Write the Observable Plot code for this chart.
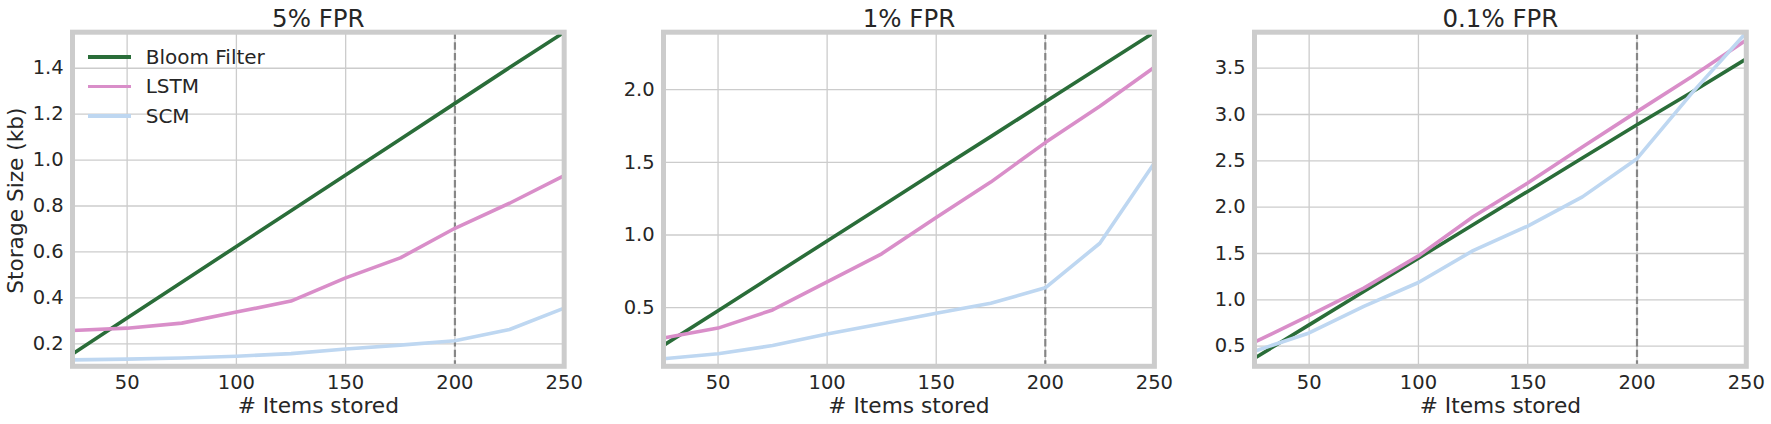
<!DOCTYPE html>
<html>
<head>
<meta charset="utf-8">
<script src="https://cdn.jsdelivr.net/npm/d3@7"></script>
<script src="https://cdn.jsdelivr.net/npm/@observablehq/plot@0.6"></script>
<style>
  html, body { margin: 0; padding: 0; background: #ffffff; }
  #root { position: relative; width: 1771px; height: 424px; overflow: hidden; font-family: "DejaVu Sans", sans-serif; color: #262626; }
  .panel { position: absolute; top: 0; }
  .legend { position: absolute; left: 88px; top: 42.7px; font-size: 20px; line-height: 1; }
  .legend .row { display: flex; align-items: center; height: 29.2px; }
  .legend .sw { display: inline-block; width: 43px; height: 3.7px; margin-right: 14.7px; }
</style>
</head>
<body>
<div id="root"></div>
<script>
// ---- data ----
const items = [25, 50, 75, 100, 125, 150, 175, 200, 225, 250];
const seriesNames = ["Bloom Filter", "LSTM", "SCM"];
const seriesColors = ["#2a6d39", "#d98ec9", "#bed7f1"];
const titles = ["5% FPR", "1% FPR", "0.1% FPR"];

const bloom5 = [0.156, 0.312, 0.468, 0.624, 0.779, 0.935, 1.091, 1.247, 1.403, 1.557];
const lstm5  = [0.258, 0.268, 0.290, 0.338, 0.386, 0.487, 0.574, 0.703, 0.812, 0.932];
const scm5   = [0.130, 0.133, 0.138, 0.146, 0.157, 0.177, 0.194, 0.213, 0.262, 0.355];

const bloom1 = [0.240, 0.479, 0.719, 0.959, 1.198, 1.438, 1.677, 1.917, 2.157, 2.396];
const lstm1  = [0.291, 0.359, 0.484, 0.677, 0.870, 1.120, 1.364, 1.636, 1.886, 2.155];
const scm1   = [0.148, 0.182, 0.239, 0.318, 0.389, 0.461, 0.530, 0.636, 0.943, 1.495];

const bloom01 = [0.370, 0.730, 1.090, 1.450, 1.810, 2.170, 2.530, 2.890, 3.240, 3.600];
const lstm01  = [0.543, 0.829, 1.126, 1.474, 1.896, 2.261, 2.648, 3.031, 3.407, 3.804];
const scm01   = [0.446, 0.643, 0.929, 1.187, 1.531, 1.796, 2.111, 2.523, 3.228, 3.885];

const xTicks = [50, 100, 150, 200, 250];
const yTicks5 = [0.2, 0.4, 0.6, 0.8, 1.0, 1.2, 1.4];
const yTicks1 = [0.5, 1.0, 1.5, 2.0];
const yTicks01 = [0.5, 1.0, 1.5, 2.0, 2.5, 3.0, 3.5];
const yDomain5 = [0.102, 1.557];
const yDomain1 = [0.096, 2.396];
const yDomain01 = [0.283, 3.888];
const xDomain = [25, 250];
const marker = [200];
const xLabel = "# Items stored";
const yLabel = "Storage Size (kb)";

// ---- build ----
const panels = [
  {title: titles[0], series: [bloom5, lstm5, scm5], yDomain: yDomain5, yTicks: yTicks5},
  {title: titles[1], series: [bloom1, lstm1, scm1], yDomain: yDomain1, yTicks: yTicks1},
  {title: titles[2], series: [bloom01, lstm01, scm01], yDomain: yDomain01, yTicks: yTicks01}
];

const axesLeft = [71.5, 663.3, 1253.5];
const innerW = [491.7, 490.9, 491.8];
const ML = 72, MR = 20, MT = 31.7, MB = 58.2, H = 424;
const root = document.getElementById("root");
const fmt = d3.format(".1f");

panels.forEach((p, i) => {
  const rows = [];
  p.series.forEach((vals, s) => vals.forEach((v, k) => rows.push({x: items[k], y: v, s: seriesNames[s]})));
  const W = ML + innerW[i] + MR;
  const chart = Plot.plot({
    width: W,
    height: H,
    marginLeft: ML,
    marginRight: MR,
    marginTop: MT,
    marginBottom: MB,
    style: {fontFamily: "DejaVu Sans", color: "#262626", background: "transparent", overflow: "visible"},
    x: {domain: xDomain},
    y: {domain: p.yDomain},
    color: {domain: seriesNames, range: seriesColors},
    marks: [
      Plot.gridX(xTicks, {stroke: "#cccccc", strokeOpacity: 1, strokeWidth: 1.3}),
      Plot.gridY(p.yTicks, {stroke: "#cccccc", strokeOpacity: 1, strokeWidth: 1.3}),
      Plot.ruleX(marker, {stroke: "#777777", strokeOpacity: 0.85, strokeWidth: 2.2, strokeDasharray: "7.4,3.2"}),
      Plot.line(rows, {x: "x", y: "y", z: "s", stroke: "s", strokeWidth: 3.6, strokeLinejoin: "round", strokeLinecap: "butt"}),
      Plot.frame({stroke: "#cccccc", strokeWidth: 5}),
      Plot.axisX(xTicks, {tickSize: 0, tickPadding: 8.8, fontSize: 19.5, label: null}),
      Plot.axisY(p.yTicks, {tickSize: 0, tickPadding: 8.8, fontSize: 19.5, tickFormat: fmt, label: null}),
      Plot.text([p.title], {text: d => d, frameAnchor: "top", dy: -13.5, fontSize: 24.5, lineAnchor: "middle"}),
      Plot.text([xLabel], {text: d => d, frameAnchor: "bottom", dy: 30.8, fontSize: 21.7, lineAnchor: "top"}),
      i === 0 ? Plot.text([yLabel], {text: d => d, frameAnchor: "left", textAnchor: "middle", rotate: -90, dx: -56.9, dy: 1.4, fontSize: 21.7, lineAnchor: "middle"}) : null
    ]
  });
  chart.classList.add("panel");
  chart.style.left = (axesLeft[i] - ML) + "px";
  root.appendChild(chart);
});

// legend (panel 1, upper left)
const legend = document.createElement("div");
legend.className = "legend";
seriesNames.forEach((name, s) => {
  const row = document.createElement("div");
  row.className = "row";
  const sw = document.createElement("span");
  sw.className = "sw";
  sw.style.background = seriesColors[s];
  const label = document.createElement("span");
  label.textContent = name;
  row.appendChild(sw);
  row.appendChild(label);
  legend.appendChild(row);
});
root.appendChild(legend);
</script>
</body>
</html>
